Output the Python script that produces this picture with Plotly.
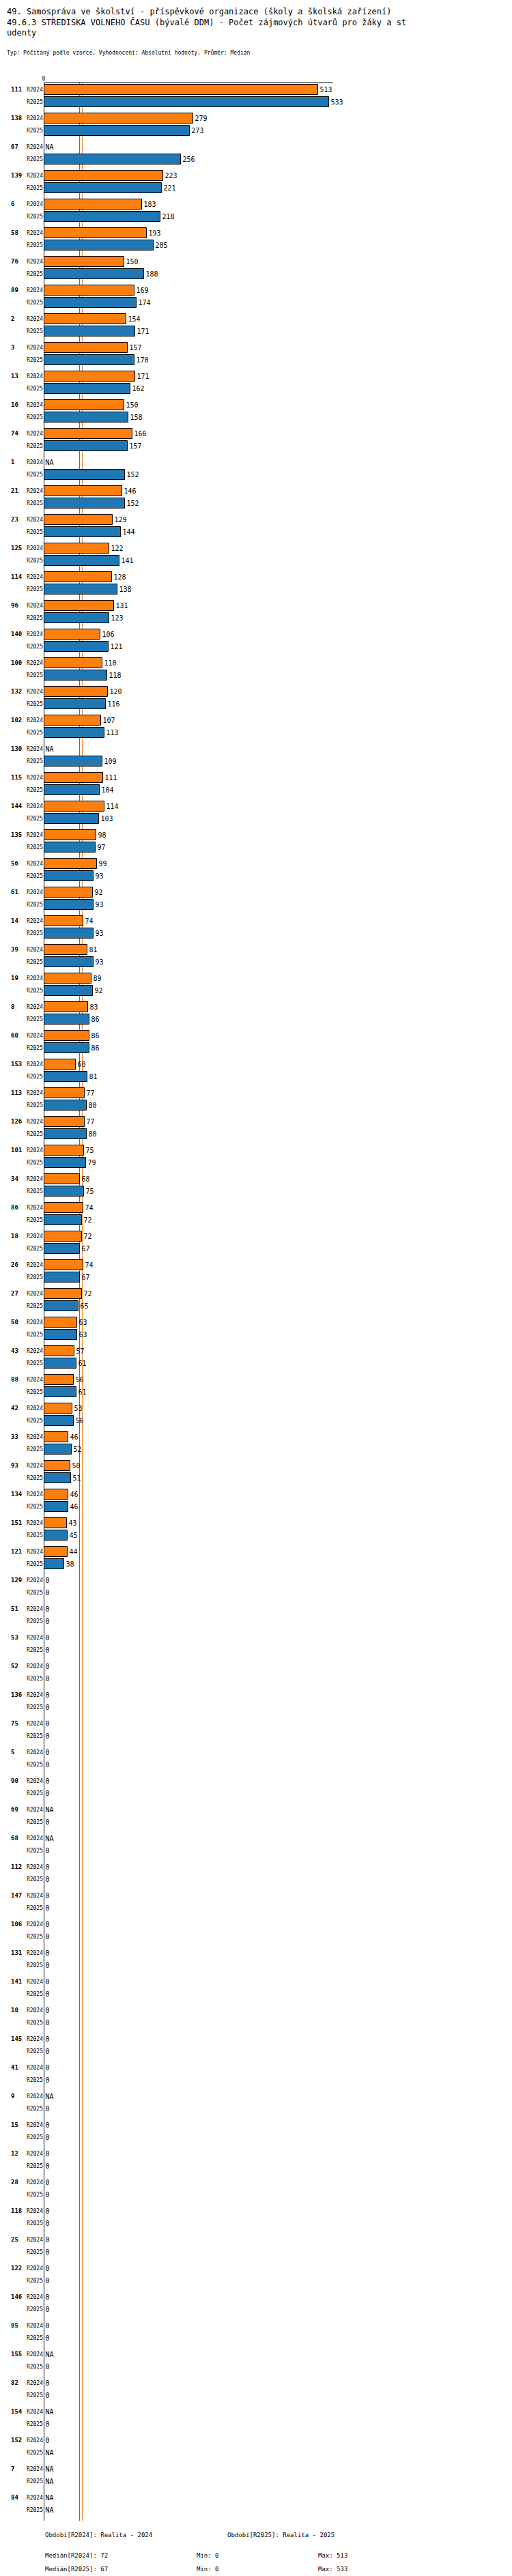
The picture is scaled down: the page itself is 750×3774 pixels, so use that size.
import plotly.graph_objects as go

# groups in display order, NA = None
groups = ["111", "138", "67", "139", "6", "58", "76", "89", "2", "3", "13", "16", "74", "1", "21",
          "23", "125", "114", "96", "140", "100", "132", "102", "130", "115", "144", "135", "56", "61",
          "14", "39", "19", "8", "60", "153", "113", "126", "101", "34", "86", "18", "26", "27", "50",
          "43", "88", "42", "33", "93", "134", "151", "121", "129", "51", "53", "52", "136", "75", "5",
          "90", "69", "68", "112", "147", "106", "131", "141", "10", "145", "41", "9", "15", "12", "28",
          "118", "25", "122", "146", "85", "155", "82", "154", "152", "7", "84"]
r2024 = [513, 279, None, 223, 183, 193, 150, 169, 154, 157, 171, 150, 166, None, 146,
         129, 122, 128, 131, 106, 110, 120, 107, None, 111, 114, 98, 99, 92,
         74, 81, 89, 83, 86, 60, 77, 77, 75, 68, 74, 72, 74, 72, 63,
         57, 56, 53, 46, 50, 46, 43, 44, 0, 0, 0, 0, 0, 0, 0,
         0, None, None, 0, 0, 0, 0, 0, 0, 0, 0, None, 0, 0, 0,
         0, 0, 0, 0, 0, None, 0, None, 0, None, None]
r2025 = [533, 273, 256, 221, 218, 205, 188, 174, 171, 170, 162, 158, 157, 152, 152,
         144, 141, 138, 123, 121, 118, 116, 113, 109, 104, 103, 97, 93, 93,
         93, 93, 92, 86, 86, 81, 80, 80, 79, 75, 72, 67, 67, 65, 63,
         61, 61, 56, 52, 51, 46, 45, 38, 0, 0, 0, 0, 0, 0, 0,
         0, 0, 0, 0, 0, 0, 0, 0, 0, 0, 0, 0, 0, 0, 0,
         0, 0, 0, 0, 0, 0, 0, 0, None, None, None]
median_2024 = 72
median_2025 = 67

PITCH = 42
OFF = 18
FONT = "DejaVu Sans Mono"

y24 = [i * PITCH for i in range(len(groups))]
y25 = [i * PITCH + OFF for i in range(len(groups))]


def txt(v):
    return "NA" if v is None else str(v)


fig = go.Figure()
for vals, ys, col, name in [(r2024, y24, "#ff7f0e", "R2024"), (r2025, y25, "#1f77b4", "R2025")]:
    fig.add_trace(go.Bar(
        x=[0 if v is None else v for v in vals], y=ys, orientation="h", width=15,
        marker=dict(color=col, line=dict(color="black", width=1)),
        text=[txt(v) for v in vals], textposition="outside", cliponaxis=False,
        textfont=dict(family=FONT, size=10, color="black"), name=name, showlegend=False,
    ))

for m, col in [(median_2024, "#ff7f0e"), (median_2025, "#1f77b4")]:
    fig.add_shape(type="line", x0=m, x1=m, yref="paper", y0=0, y1=1,
                  line=dict(color=col, width=1), layer="below")

# top axis line and left axis line
fig.add_shape(type="line", x0=-5, x1=540, yref="paper", y0=1, y1=1, line=dict(color="black", width=1))
fig.add_shape(type="line", x0=0, x1=0, yref="paper", y0=0, y1=1, line=dict(color="black", width=2))

for g, y in zip(groups, y24):
    fig.add_annotation(x=0, xref="paper", xshift=-50, y=y, text="<b>%s</b>" % g, showarrow=False,
                       xanchor="left", font=dict(family=FONT, size=9, color="black"))

H = 3572.0
def py(p):
    return (3685 - p) / H

foot = [(0.0, 3706, "Období[R2024]: Realita - 2024"), (0.39, 3706, "Období[R2025]: Realita - 2025"),
        (0.0, 3736, "Medián[R2024]: 72"), (0.325, 3736, "Min: 0"), (0.585, 3736, "Max: 513"),
        (0.0, 3756, "Medián[R2025]: 67"), (0.325, 3756, "Min: 0"), (0.585, 3756, "Max: 533")]
for xp, p, t in foot:
    fig.add_annotation(x=xp, xref="paper", y=py(p), yref="paper", text=t, showarrow=False,
                       xanchor="left", yanchor="middle", font=dict(family=FONT, size=9, color="black"))

fig.add_annotation(x=0, xref="paper", xshift=-56, y=1, yref="paper", yshift=113, yanchor="top",
                   xanchor="left", align="left", showarrow=False,
                   text="49. Samospráva ve školství - příspěvkové organizace (školy a školská zařízení)<br>"
                        "49.6.3 STŘEDISKA VOLNÉHO ČASU (bývalé DDM) - Počet zájmových útvarů pro žáky a st<br>udenty",
                   font=dict(family=FONT, size=12, color="black"))
fig.add_annotation(x=0, xref="paper", xshift=-56, y=1, yref="paper", yshift=44, yanchor="middle",
                   xanchor="left", showarrow=False,
                   text="Typ: Počítaný podle vzorce, Vyhodnocení: Absolutní hodnoty, Průměr: Medián",
                   font=dict(family=FONT, size=8, color="black"))

fig.update_layout(
    width=750, height=3774, plot_bgcolor="white", paper_bgcolor="white",
    margin=dict(l=56, r=10, t=113, b=89), bargap=0,
    xaxis=dict(range=[0, 872], side="top", tickvals=[0], ticktext=["0"], showgrid=False,
               zeroline=False, showline=False, ticks="", tickfont=dict(family=FONT, size=8, color="black")),
    yaxis=dict(range=[3562, -10], tickvals=y24 + y25, ticktext=["R2024"] * len(y24) + ["R2025"] * len(y25),
               showgrid=False, zeroline=False, showline=False, ticks="",
               tickfont=dict(family="Liberation Sans Narrow, " + FONT, size=8, color="black")),
)

fig.write_html("out.html")
